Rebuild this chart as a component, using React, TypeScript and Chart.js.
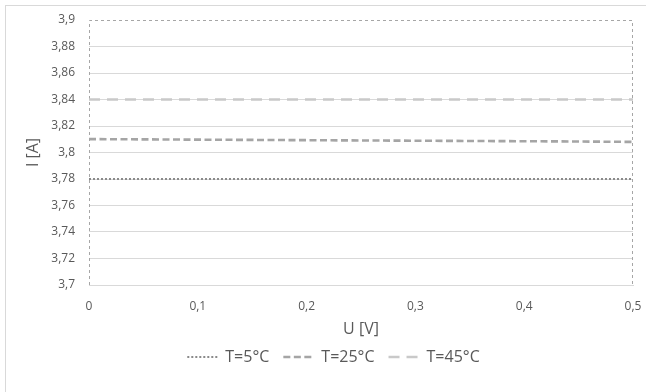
import React, { useEffect, useRef } from "react";
import { Chart, registerables } from "chart.js";

Chart.register(...registerables);

const U_VALUES = [0, 0.05, 0.1, 0.15, 0.2, 0.25, 0.3, 0.35, 0.4, 0.45, 0.5];
const I_T5 = [3.78, 3.78, 3.78, 3.78, 3.78, 3.78, 3.78, 3.78, 3.78, 3.78, 3.78];
const I_T25 = [3.8101, 3.8099, 3.8097, 3.8095, 3.8093, 3.8091, 3.8089, 3.8087, 3.8085, 3.8083, 3.808];
const I_T45 = [3.84, 3.84, 3.84, 3.84, 3.84, 3.84, 3.84, 3.84, 3.84, 3.84, 3.84];
const SERIES_LABELS = ["T=5°C", "T=25°C", "T=45°C"];
const X_TITLE = "U [V]";
const Y_TITLE = "I [A]";

const FONT = "'Open Sans', 'DejaVu Sans', sans-serif";
const TEXT = "#595959";

const fmt = (v: number) => String(Math.round(v * 1000) / 1000).replace(".", ",");

const zeroPad = (s: any) => {
  s.paddingLeft = 0;
  s.paddingRight = 0;
  s.paddingTop = 0;
  s.paddingBottom = 0;
};

const plotBorder = {
  id: "plotBorder",
  afterLayout(chart: any) {
    const lg = chart.legend;
    if (lg) {
      lg.left += 17;
      lg.right += 17;
    }
  },
  beforeDatasetsDraw(chart: any) {
    const { ctx, chartArea } = chart;
    const l = Math.round(chartArea.left) + 0.5;
    const r = Math.round(chartArea.right) - 0.5;
    const t = Math.round(chartArea.top) + 0.5;
    const b = Math.round(chartArea.bottom);
    ctx.save();
    ctx.strokeStyle = "#a6a6a6";
    ctx.lineWidth = 1;
    ctx.setLineDash([3, 3]);
    ctx.beginPath();
    ctx.moveTo(l, b);
    ctx.lineTo(l, t);
    ctx.lineTo(r, t);
    ctx.lineTo(r, b);
    ctx.stroke();
    ctx.restore();
  },
};

export default function App() {
  const ref = useRef<HTMLCanvasElement | null>(null);

  useEffect(() => {
    if (!ref.current) return;
    const mk = (ys: number[]) => U_VALUES.map((x, i) => ({ x, y: ys[i] }));
    const chart = new Chart(ref.current, {
      type: "line",
      data: {
        datasets: [
          {
            label: SERIES_LABELS[0],
            data: mk(I_T5),
            borderColor: "#8a8a8a",
            borderWidth: 2,
            borderDash: [2, 2],
            pointRadius: 0,
            fill: false,
          },
          {
            label: SERIES_LABELS[1],
            data: mk(I_T25),
            borderColor: "#a5a5a5",
            borderWidth: 2.6,
            borderDash: [7, 3.5],
            pointRadius: 0,
            fill: false,
          },
          {
            label: SERIES_LABELS[2],
            data: mk(I_T45),
            borderColor: "#c9c9c9",
            borderWidth: 2.6,
            borderDash: [11, 7],
            pointRadius: 0,
            fill: false,
          },
        ],
      },
      options: {
        responsive: false,
        animation: false,
        events: [],
        layout: { padding: { left: 0, right: 13, top: 20, bottom: 17 } },
        plugins: {
          legend: {
            position: "bottom",
            labels: {
              usePointStyle: true,
              pointStyle: "line",
              pointStyleWidth: 30,
              padding: 14,
              color: TEXT,
              font: { family: FONT, size: 16 },
              generateLabels: (c: any) =>
                c.data.datasets.map((ds: any, i: number) => ({
                  text: ds.label,
                  fillStyle: ds.borderColor,
                  strokeStyle: ds.borderColor,
                  lineWidth: ds.borderWidth,
                  lineDash: ds.borderDash,
                  lineCap: "butt",
                  pointStyle: "line",
                  fontColor: TEXT,
                  hidden: false,
                  datasetIndex: i,
                })),
            },
          },
          tooltip: { enabled: false },
        },
        scales: {
          x: {
            type: "linear",
            min: 0,
            max: 0.5,
            ticks: {
              stepSize: 0.1,
              padding: 14,
              color: TEXT,
              font: { family: FONT, size: 12 },
              callback: (v: any) => fmt(Number(v)),
            },
            grid: { display: false, drawTicks: false },
            border: { display: true, color: "#d9d9d9", width: 1 },
            title: {
              display: true,
              text: X_TITLE,
              color: TEXT,
              font: { family: FONT, size: 16, lineHeight: 1 },
              padding: { top: 0, bottom: -2 },
            },
            afterFit: (s: any) => {
              s.height = 50;
              zeroPad(s);
            },
          },
          y: {
            type: "linear",
            min: 3.7,
            max: 3.9,
            ticks: {
              stepSize: 0.02,
              padding: 14,
              color: TEXT,
              font: { family: FONT, size: 12 },
              callback: (v: any) => fmt(Number(v)),
            },
            grid: {
              drawTicks: false,
              lineWidth: 1,
              color: (ctx: any) =>
                ctx.tick && Math.abs(ctx.tick.value - 3.9) < 1e-6 ? "rgba(0,0,0,0)" : "#d9d9d9",
            },
            border: { display: false },
            title: {
              display: true,
              text: Y_TITLE,
              color: TEXT,
              font: { family: FONT, size: 16, lineHeight: 1 },
              padding: { top: 25, bottom: 0 },
            },
            afterFit: (s: any) => {
              s.width = 89;
              zeroPad(s);
            },
          },
        },
      } as any,
      plugins: [plotBorder],
    });
    return () => chart.destroy();
  }, []);

  return (
    <>
      <div
        style={{
          position: "fixed",
          left: 5,
          top: 5,
          width: 642,
          height: 388,
          boxSizing: "border-box",
          border: "1px solid #d9d9d9",
          pointerEvents: "none",
        }}
      />
      <canvas
        ref={ref}
        width={646}
        height={392}
        style={{ position: "fixed", left: 0, top: 0, width: 646, height: 392 }}
      />
    </>
  );
}
